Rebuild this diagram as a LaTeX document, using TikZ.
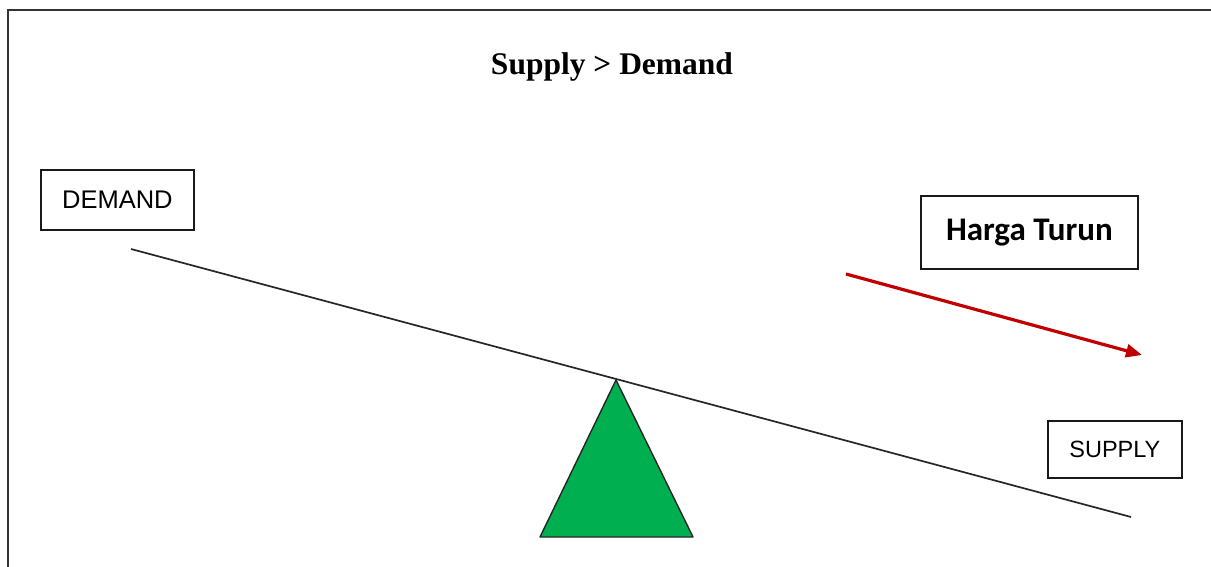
\documentclass[tikz,border=0pt]{standalone}
\usepackage{fontspec}
\setmainfont{Liberation Serif}
\newfontfamily\lsans{Liberation Sans}
\newfontfamily\carl{Carlito}
\usetikzlibrary{arrows.meta}
\definecolor{trigreen}{RGB}{0,176,80}
\definecolor{arrowred}{RGB}{192,0,0}
\tikzset{
  labelbox/.style={draw=black!90, line width=1.8pt, inner sep=0pt, anchor=north west},
  lever/.style={draw=black!85, line width=1.7pt},
}
\begin{document}
\begin{tikzpicture}[x=1pt,y=-1pt]
\useasboundingbox (0,0) rectangle (1211,567);
% frame
\draw[line width=2.2pt, black!80] (8,580) -- (8,10) -- (1225,10);
% title
\node[font=\fontsize{31.5}{34}\selectfont\bfseries] (title) at (612,67) {Supply > Demand};
% boxes
\node[labelbox, minimum width=153pt, minimum height=60pt, font=\lsans\fontsize{25.5}{28}\selectfont] (demand) at (40,169) {DEMAND};
\node[labelbox, minimum width=217pt, minimum height=73pt, font=\carl\bfseries\fontsize{33}{36}\selectfont] (harga) at (920,195) {\raisebox{1pt}{Harga Turun}};
\node[labelbox, minimum width=134pt, minimum height=57pt, font=\lsans\fontsize{23.5}{26}\selectfont] (supply) at (1047,420) {SUPPLY};
% lever
\coordinate (L) at (131,249);
\coordinate (R) at (1131,517);
\coordinate (apex) at (616,380);
\coordinate (bl) at (540,537);
\coordinate (br) at (693,537);
\draw[fill=trigreen, draw=black!85, line width=1.4pt, line join=round] (apex) -- (bl) -- (br) -- cycle;
\draw[lever] (L) -- (R);
% arrow
\coordinate (a1) at (846,274);
\coordinate (a2) at (1142,355);
\draw[arrowred, line width=3.2pt, -{Triangle[length=16pt,width=13pt]}] (a1) -- (a2);
\end{tikzpicture}
\end{document}
